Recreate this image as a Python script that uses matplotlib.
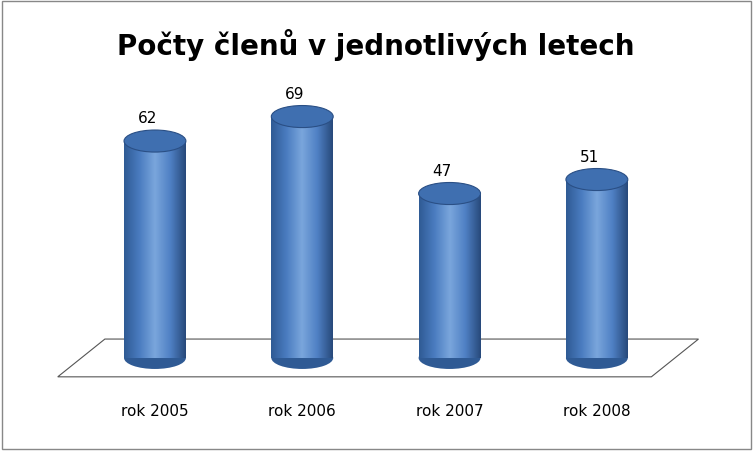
import numpy as np
import matplotlib.pyplot as plt
from matplotlib.patches import Ellipse, Polygon, Rectangle
from matplotlib.colors import LinearSegmentedColormap

categories = ["rok 2005", "rok 2006", "rok 2007", "rok 2008"]
values = [62, 69, 47, 51]
title = "Počty členů v jednotlivých letech"

fig = plt.figure(figsize=(7.53, 4.52), dpi=100)
fig.patch.set_facecolor("white")
ax = fig.add_axes([0, 0, 1, 1])
ax.set_xlim(-1.052, 4.06)
ax.set_ylim(-26.6, 102.6)
ax.axis("off")

# outer border
fig.add_artist(Rectangle((0.002, 0.004), 0.995, 0.992, transform=fig.transFigure,
                         fill=False, edgecolor="#888888", lw=1))

# floor
floor = Polygon([(-0.66, -5.4), (-0.34, 5.4), (3.69, 5.4), (3.37, -5.4)],
                closed=True, facecolor="white", edgecolor="#555555", lw=0.8, zorder=1)
ax.add_patch(floor)

cmap = LinearSegmentedColormap.from_list(
    "cyl", ["#2f5a94", "#4a7cc0", "#7aa6dc", "#4f80c4", "#27497a"])
grad = np.linspace(0, 1, 256).reshape(1, -1)
w = 0.42
eh = 6.3
for i, v in enumerate(values):
    x0 = i - w / 2
    body = Rectangle((x0, 0), w, v, transform=ax.transData)
    im = ax.imshow(grad, cmap=cmap, aspect="auto", extent=(x0, x0 + w, 0, v),
                   zorder=2, interpolation="bicubic")
    im.set_clip_path(body)
    ax.add_patch(Ellipse((i, 0), w, eh, facecolor="#2f5a94", edgecolor="none", zorder=1.9))
    ax.add_patch(Ellipse((i, v), w, eh, facecolor="#3f6fb0", edgecolor="#2a4f85",
                         lw=0.8, zorder=3))
    ax.text(i - 0.05, v + 4.5, str(v), ha="center", va="bottom", fontsize=11,
            family="DejaVu Sans", zorder=4)
    ax.text(i, -15, categories[i], ha="center", va="center", fontsize=11)

ax.text(1.5, 89.8, title, ha="center", va="center", fontsize=20, fontweight="bold")

fig.savefig("out.png", dpi=100)
